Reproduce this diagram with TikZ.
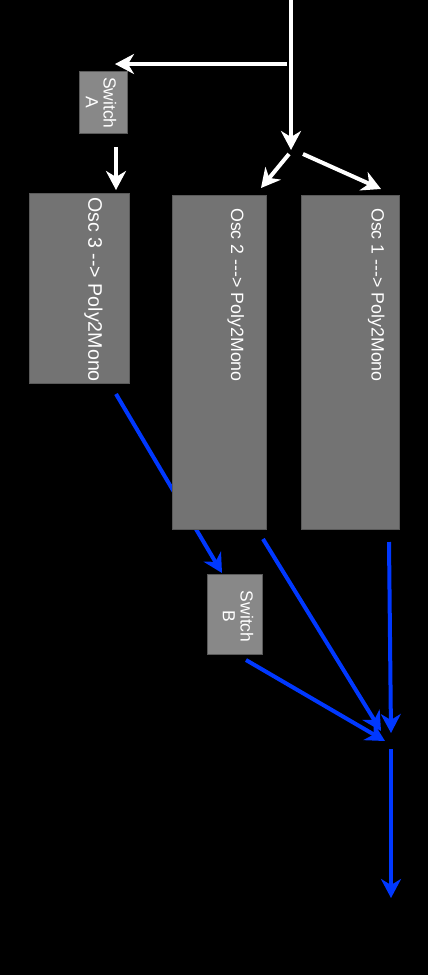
\documentclass[tikz,border=0pt]{standalone}
\usepackage{fontspec}
\setmainfont{Liberation Sans}
\usetikzlibrary{arrows.meta}
\definecolor{oscgray}{RGB}{115,115,115}
\definecolor{swgray}{RGB}{136,136,136}
\definecolor{edgegray}{RGB}{90,90,90}
\definecolor{wireblue}{RGB}{0,56,255}
\tikzset{
  box/.style={draw=edgegray, line width=1pt, inner sep=0pt},
  oscbox/.style={box, fill=oscgray},
  swbox/.style={box, fill=swgray},
  osclabel/.style={rotate=-90, anchor=base west, inner sep=0pt, text=white},
  swlabel/.style={rotate=-90, align=center, inner sep=0pt, text=white, font=\fontsize{17.5}{17.7}\selectfont},
  tip/.style={-{Stealth[length=19pt,width=20pt,inset=6pt]}},
  whitewire/.style={tip, draw=white, line width=4pt},
  bluewire/.style={tip, draw=wireblue, line width=4pt},
}
\begin{document}
\begin{tikzpicture}[x=1pt,y=-1pt]
\fill[black] (0,0) rectangle (428,975);
\useasboundingbox (0,0) rectangle (428,975);

% coordinates for free ends and gaps
\coordinate (in) at (291,0);
\coordinate (split) at (291,150);
\coordinate (splitL) at (289,154);
\coordinate (splitR) at (303,154);
\coordinate (tapA) at (287,64);
\coordinate (swAin) at (115,64);
\coordinate (swAout) at (116,147);
\coordinate (osc3in) at (116,190);
\coordinate (osc2in) at (261,188);
\coordinate (osc1in) at (381,189);
\coordinate (osc3out) at (116,394);
\coordinate (swBin) at (222,573);
\coordinate (osc2out) at (263,539);
\coordinate (osc1out) at (389,542);
\coordinate (swBout) at (246,660);
\coordinate (mixA) at (381,731);
\coordinate (mixB) at (391,733);
\coordinate (mixC) at (385,741);
\coordinate (mixout) at (391,749);
\coordinate (out) at (391,898);

% wire drawn beneath Osc 2
\draw[bluewire] (osc3out) -- (swBin);

% boxes
\node[swbox, minimum width=48pt, minimum height=62pt] (swA) at (103,102) {};
\node[oscbox, minimum width=100pt, minimum height=190pt] (osc3) at (79,288) {};
\node[oscbox, minimum width=94pt, minimum height=334pt] (osc2) at (219,362) {};
\node[oscbox, minimum width=98pt, minimum height=334pt] (osc1) at (350,362) {};
\node[swbox, minimum width=55pt, minimum height=80pt] (swB) at (234.5,614) {};

% labels
\node[osclabel, font=\fontsize{19.6}{22}\selectfont] (t3) at (88.3,197) {Osc 3 -{}-> Poly2Mono};
\node[osclabel, font=\fontsize{17.8}{20}\selectfont] (t2) at (231,208) {Osc 2 -{}-{}-> Poly2Mono};
\node[osclabel, font=\fontsize{17.8}{20}\selectfont] (t1) at (371.7,208) {Osc 1 -{}-{}-> Poly2Mono};
\node[swlabel] (tA) at (101,102.8) {Switch\\A};
\node[swlabel] (tB) at (238,616.7) {Switch\\B};

% white wires
\draw[whitewire] (in) -- (split);
\draw[whitewire] (tapA) -- (swAin);
\draw[whitewire] (swAout) -- (osc3in);
\draw[whitewire] (splitL) -- (osc2in);
\draw[whitewire] (splitR) -- (osc1in);

% blue wires
\draw[bluewire] (osc2out) -- (mixA);
\draw[bluewire] (osc1out) -- (mixB);
\draw[bluewire] (swBout) -- (mixC);
\draw[bluewire] (mixout) -- (out);
\end{tikzpicture}
\end{document}
